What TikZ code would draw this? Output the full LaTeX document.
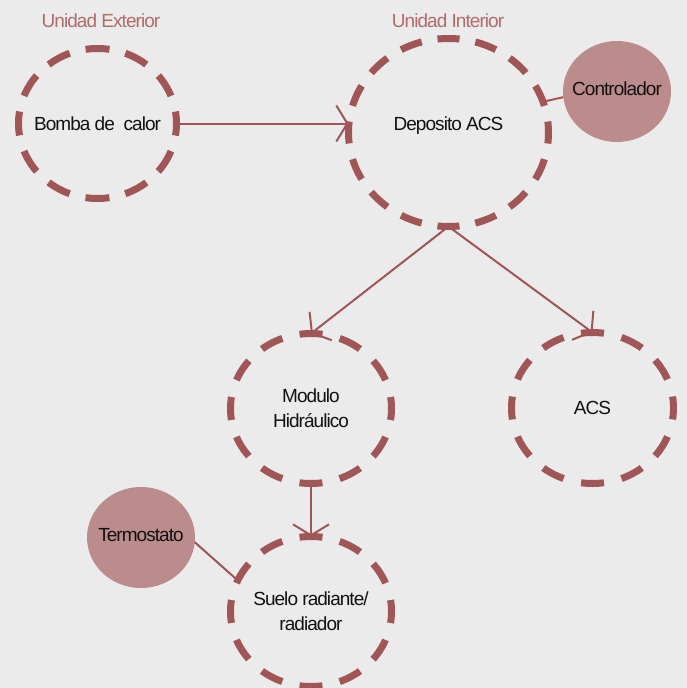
\documentclass[tikz,border=0pt]{standalone}
\usepackage{fontspec}
\setmainfont{Liberation Sans}[LetterSpace=-5]
\usetikzlibrary{shapes.geometric,arrows.meta}
\definecolor{bgc}{HTML}{EBEBEB}
\definecolor{linec}{HTML}{A05556}
\definecolor{fillc}{HTML}{BC8C8C}
\definecolor{labc}{HTML}{B26A6A}
\definecolor{txtc}{HTML}{111111}
\tikzset{
  txt/.style={text=txtc, align=center, inner sep=0pt, font=\fontsize{19}{25}\selectfont},
  dcirc/.style={ellipse, draw=linec, line width=7pt, inner sep=0pt, outer sep=0pt},
  fcirc/.style={ellipse, fill=fillc, inner sep=0pt, outer sep=0pt,
    minimum width=108pt, minimum height=101pt},
  unitlabel/.style={text=labc, inner sep=0pt, font=\fontsize{19}{25}\selectfont},
  conn/.style={draw=linec, line width=2pt},
  arr/.style={conn, -{Straight Barb[length=11pt,width=36pt]}},
}
\begin{document}
\begin{tikzpicture}[x=1pt,y=-1pt]
\fill[bgc] (0,0) rectangle (687,688);
\useasboundingbox (0,0) rectangle (687,688);

\node[unitlabel] (ulext) at (101,21) {Unidad Exterior};
\node[unitlabel] (ulint) at (448,21) {Unidad Interior};

\node[dcirc, minimum width=158pt, minimum height=150pt,
      dash pattern=on 24pt off 16.32pt, dash phase=12pt,
      label={[txt]center:Bomba de\ \ calor}] (bomba) at (97.5,123.5) {};
\node[dcirc, minimum width=200pt, minimum height=188pt,
      dash pattern=on 22pt off 16.1pt, dash phase=11pt,
      label={[txt, yshift=7pt]center:Deposito ACS}] (dep) at (448.5,132.5) {};
\node[dcirc, minimum width=161pt, minimum height=150pt,
      dash pattern=on 23pt off 17.72pt, dash phase=11.5pt,
      label={[txt]center:Modulo\\Hidráulico}] (mod) at (311,408.5) {};
\node[dcirc, minimum width=162pt, minimum height=151pt,
      dash pattern=on 23pt off 17.99pt, dash phase=11.5pt,
      label={[txt]center:ACS}] (acs) at (592.5,408) {};
\node[dcirc, minimum width=161pt, minimum height=150pt,
      dash pattern=on 23pt off 17.72pt, dash phase=11.5pt,
      label={[txt]center:Suelo radiante/\\radiador}] (suelo) at (311,611.5) {};

\node[fcirc, label={[txt, yshift=3pt]center:Controlador}] (ctrl) at (617,91.5) {};
\node[fcirc, label={[txt, yshift=2pt]center:Termostato}] (term) at (141,537.5) {};

\draw[arr] (bomba.east) -- (dep.west |- bomba.east);
\draw[arr] (dep.south) -- (mod.north);
\draw[arr] (dep.south) -- (acs.north);
\draw[arr] (mod) -- (suelo);
\draw[conn] (ctrl.186) -- (dep.18);
\draw[conn] (term.-5) -- (suelo.157);
\end{tikzpicture}
\end{document}
